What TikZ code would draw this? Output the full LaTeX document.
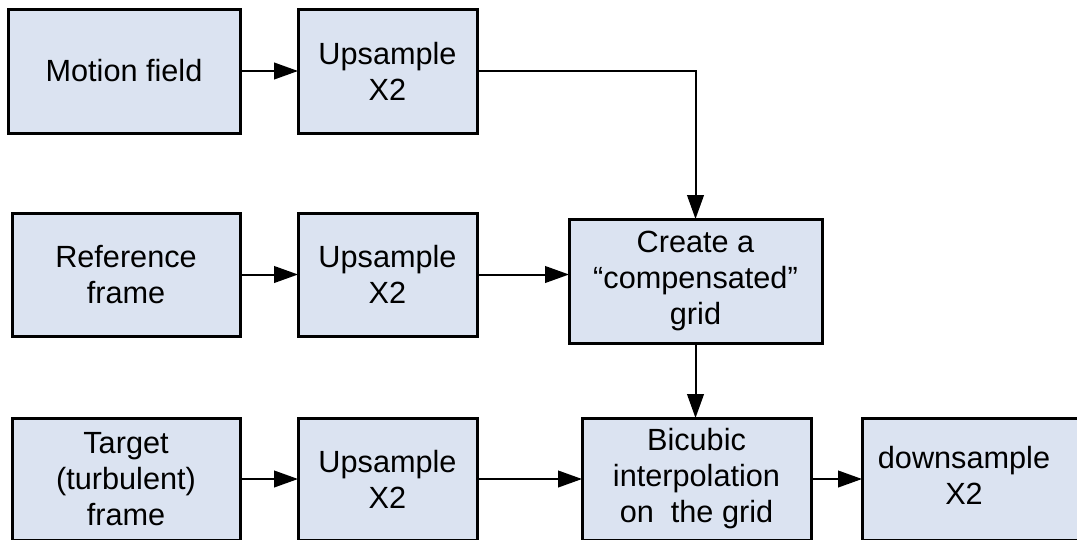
\documentclass[tikz,border=0pt]{standalone}
\usepackage{fontspec}
\setmainfont{Liberation Sans}
\usetikzlibrary{arrows.meta}
\definecolor{boxfill}{RGB}{219,227,241}
\tikzset{
  box/.style={draw=black, fill=boxfill, line width=2.25pt, inner sep=0pt, outer sep=0pt,
    align=center, font=\fontsize{23}{27}\selectfont},
  conn/.style={line width=1.5pt, -{Triangle[length=18pt,width=12.5pt]}},
  plain/.style={line width=1.5pt}
}
\begin{document}
\begin{tikzpicture}[x=0.75pt,y=-0.75pt]
\clip (0,0) rectangle (1077,539);
\fill[white] (0,0) rectangle (1077,539);
\node[box, minimum width=174pt, minimum height=93pt] (mf) at (124,71) {Motion field};
\node[box, minimum width=134.25pt, minimum height=93pt] (up1) at (387.5,71) {Upsample\\X2};
\node[box, minimum width=171pt, minimum height=92.25pt] (ref) at (126,274.5) {Reference\\frame};
\node[box, minimum width=134.25pt, minimum height=92.25pt] (up2) at (387.5,274.5) {Upsample\\X2};
\node[box, minimum width=189.75pt, minimum height=93pt] (cr) at (695.5,281) {Create a\\“compensated”\\grid};
\node[box, minimum width=171pt, minimum height=91.5pt] (tgt) at (126,479) {Target\\(turbulent)\\frame};
\node[box, minimum width=134.25pt, minimum height=91.5pt] (up3) at (387.5,479) {Upsample\\X2};
\node[box, minimum width=171.75pt, minimum height=91.5pt] (bic) at (696.5,479) {Bicubic\\interpolation\\on~~the grid};
\node[box, minimum width=171pt, minimum height=91.5pt] (ds) at (976,479) {\hspace*{-18pt}\begin{tabular}{@{}c@{}}downsample\\X2\end{tabular}};
\draw[conn] (mf.east) -- (up1.west);
\draw[conn] (up1.east) -| (cr.north);
\draw[conn] (ref.east) -- (up2.west);
\draw[conn] (up2.east) -- (up2.east -| cr.west);
\draw[conn] (cr.south) -- (cr.south |- bic.north);
\draw[conn] (tgt.east) -- (up3.west);
\draw[conn] (up3.east) -- (bic.west);
\draw[conn] (bic.east) -- (ds.west);
\end{tikzpicture}
\end{document}
